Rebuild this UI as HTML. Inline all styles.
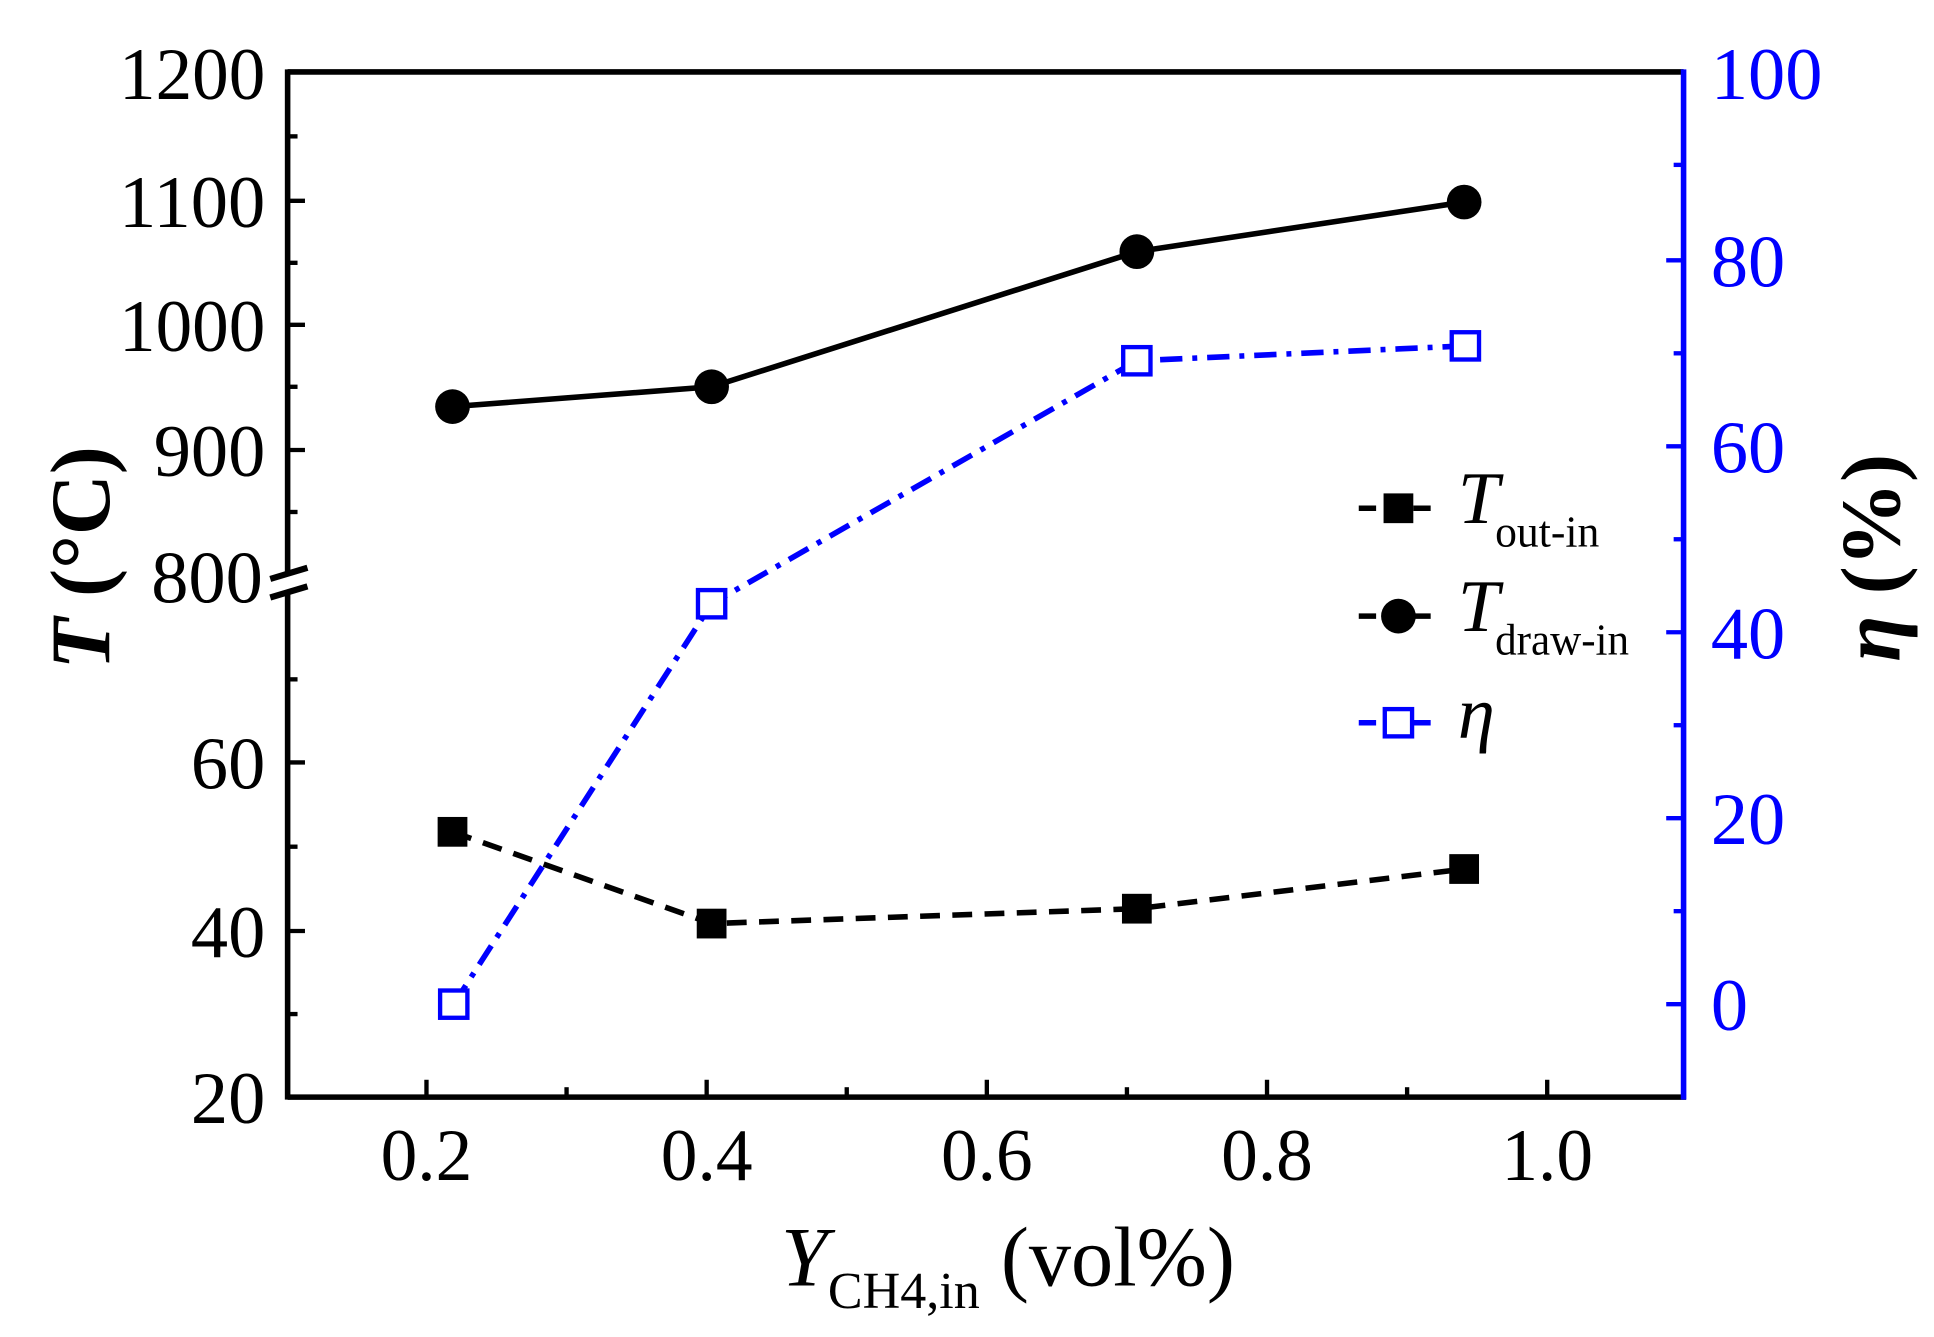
<!DOCTYPE html>
<html><head><meta charset="utf-8"><style>html,body{margin:0;padding:0;background:#fff}svg{display:block}</style></head>
<body>
<svg width="1934" height="1337" viewBox="0 0 1560 1078.5" preserveAspectRatio="none" xmlns="http://www.w3.org/2000/svg" font-family="Liberation Serif, serif">
<rect width="1560" height="1078.5" fill="#fff"/>
<g stroke="#000" stroke-width="4.5" fill="none">
<line x1="232" y1="58" x2="1358" y2="58"/>
<line x1="232" y1="885" x2="1360" y2="885"/>
<line x1="232" y1="56" x2="232" y2="462"/>
<line x1="232" y1="476" x2="232" y2="887"/>
</g>
<g stroke="#000" stroke-width="5">
<line x1="218" y1="467" x2="248" y2="458"/>
<line x1="218" y1="482" x2="248" y2="473"/>
</g>
<line x1="1358" y1="56" x2="1358" y2="887" stroke="#00f" stroke-width="4.5"/>
<g stroke="#000" stroke-width="3.5">
<line x1="232" y1="162" x2="246" y2="162"/><line x1="232" y1="262" x2="246" y2="262"/><line x1="232" y1="363" x2="246" y2="363"/>
<line x1="232" y1="110" x2="240" y2="110"/><line x1="232" y1="212" x2="240" y2="212"/><line x1="232" y1="312" x2="240" y2="312"/><line x1="232" y1="413" x2="240" y2="413"/>
<line x1="232" y1="615" x2="246" y2="615"/><line x1="232" y1="751" x2="246" y2="751"/>
<line x1="232" y1="548" x2="240" y2="548"/><line x1="232" y1="683" x2="240" y2="683"/><line x1="232" y1="818" x2="240" y2="818"/>
<line x1="344" y1="885" x2="344" y2="871"/><line x1="570" y1="885" x2="570" y2="871"/><line x1="796" y1="885" x2="796" y2="871"/><line x1="1022" y1="885" x2="1022" y2="871"/><line x1="1248" y1="885" x2="1248" y2="871"/>
<line x1="457" y1="885" x2="457" y2="877"/><line x1="683" y1="885" x2="683" y2="877"/><line x1="909" y1="885" x2="909" y2="877"/><line x1="1135" y1="885" x2="1135" y2="877"/>
</g>
<g stroke="#00f" stroke-width="3.5">
<line x1="1358" y1="210" x2="1344" y2="210"/><line x1="1358" y1="360" x2="1344" y2="360"/><line x1="1358" y1="510" x2="1344" y2="510"/><line x1="1358" y1="660" x2="1344" y2="660"/><line x1="1358" y1="810" x2="1344" y2="810"/>
<line x1="1358" y1="133" x2="1350" y2="133"/><line x1="1358" y1="285" x2="1350" y2="285"/><line x1="1358" y1="435" x2="1350" y2="435"/><line x1="1358" y1="585" x2="1350" y2="585"/><line x1="1358" y1="735" x2="1350" y2="735"/>
</g>
<g font-size="60" text-anchor="end" fill="#000">
<text x="214" y="80" textLength="118" lengthAdjust="spacingAndGlyphs">1200</text><text x="214" y="183" textLength="118" lengthAdjust="spacingAndGlyphs">1100</text><text x="214" y="283" textLength="118" lengthAdjust="spacingAndGlyphs">1000</text><text x="214" y="384" textLength="90" lengthAdjust="spacingAndGlyphs">900</text><text x="212" y="486" textLength="90" lengthAdjust="spacingAndGlyphs">800</text>
<text x="214" y="636" textLength="60" lengthAdjust="spacingAndGlyphs">60</text><text x="214" y="772" textLength="60" lengthAdjust="spacingAndGlyphs">40</text><text x="214" y="906" textLength="60" lengthAdjust="spacingAndGlyphs">20</text>
</g>
<g font-size="60" text-anchor="middle" fill="#000">
<text x="344" y="952" textLength="74" lengthAdjust="spacingAndGlyphs">0.2</text><text x="570" y="952" textLength="74" lengthAdjust="spacingAndGlyphs">0.4</text><text x="796" y="952" textLength="74" lengthAdjust="spacingAndGlyphs">0.6</text><text x="1022" y="952" textLength="74" lengthAdjust="spacingAndGlyphs">0.8</text><text x="1248" y="952" textLength="74" lengthAdjust="spacingAndGlyphs">1.0</text>
</g>
<g font-size="60" fill="#00f">
<text x="1380" y="80" textLength="90" lengthAdjust="spacingAndGlyphs">100</text><text x="1380" y="231" textLength="60" lengthAdjust="spacingAndGlyphs">80</text><text x="1380" y="381" textLength="60" lengthAdjust="spacingAndGlyphs">60</text><text x="1380" y="531" textLength="60" lengthAdjust="spacingAndGlyphs">40</text><text x="1380" y="681" textLength="60" lengthAdjust="spacingAndGlyphs">20</text><text x="1380" y="831">0</text>
</g>
<text x="630" y="1037" font-size="68" fill="#000"><tspan font-style="italic">Y</tspan><tspan font-size="42" dy="18">CH4,in</tspan><tspan dy="-18"> (vol%)</tspan></text>
<text transform="translate(88,450) rotate(-90)" text-anchor="middle" font-size="68" font-weight="bold" fill="#000"><tspan font-style="italic">T</tspan> (°C)</text>
<text transform="translate(1532,450) rotate(-90)" text-anchor="middle" font-size="68" font-weight="bold" fill="#000"><tspan font-style="italic">η</tspan> (%)</text>
<polyline points="365,328 574,312 917,203 1181,163" fill="none" stroke="#000" stroke-width="4.5"/>
<polyline points="365,671 574,745 917,733 1181,701" fill="none" stroke="#000" stroke-width="4.5" stroke-dasharray="16,10"/>
<polyline points="366,810 574,487 917,291 1182,279" fill="none" stroke="#00f" stroke-width="4.5" stroke-dasharray="18,8,4,8"/>
<g fill="#000">
<circle cx="365" cy="328" r="14"/><circle cx="574" cy="312" r="14"/><circle cx="917" cy="203" r="14"/><circle cx="1181" cy="163" r="14"/>
<rect x="353" y="659" width="24" height="24"/><rect x="562" y="733" width="24" height="24"/><rect x="905" y="721" width="24" height="24"/><rect x="1169" y="689" width="24" height="24"/>
</g>
<g fill="#fff" stroke="#00f" stroke-width="3.5">
<rect x="355" y="799" width="22" height="22"/><rect x="563" y="476" width="22" height="22"/><rect x="906" y="280" width="22" height="22"/><rect x="1171" y="268" width="22" height="22"/>
</g>
<line x1="1096" y1="410" x2="1162" y2="410" stroke="#000" stroke-width="4.5" stroke-dasharray="14,8"/>
<rect x="1116" y="398" width="24" height="24" fill="#000"/>
<text x="1176" y="422" font-size="60" font-style="italic">T</text><text x="1206" y="441" font-size="36" textLength="84" lengthAdjust="spacingAndGlyphs">out-in</text>
<line x1="1096" y1="497" x2="1162" y2="497" stroke="#000" stroke-width="4.5" stroke-dasharray="14,8"/>
<circle cx="1128" cy="497" r="14" fill="#000"/>
<text x="1176" y="509" font-size="60" font-style="italic">T</text><text x="1206" y="528" font-size="36" textLength="108" lengthAdjust="spacingAndGlyphs">draw-in</text>
<line x1="1096" y1="583" x2="1162" y2="583" stroke="#00f" stroke-width="4.5" stroke-dasharray="14,8"/>
<rect x="1117" y="572" width="22" height="22" fill="#fff" stroke="#00f" stroke-width="3.5"/>
<text x="1176" y="595" font-size="60" font-style="italic">η</text>
</svg>
</body></html>
